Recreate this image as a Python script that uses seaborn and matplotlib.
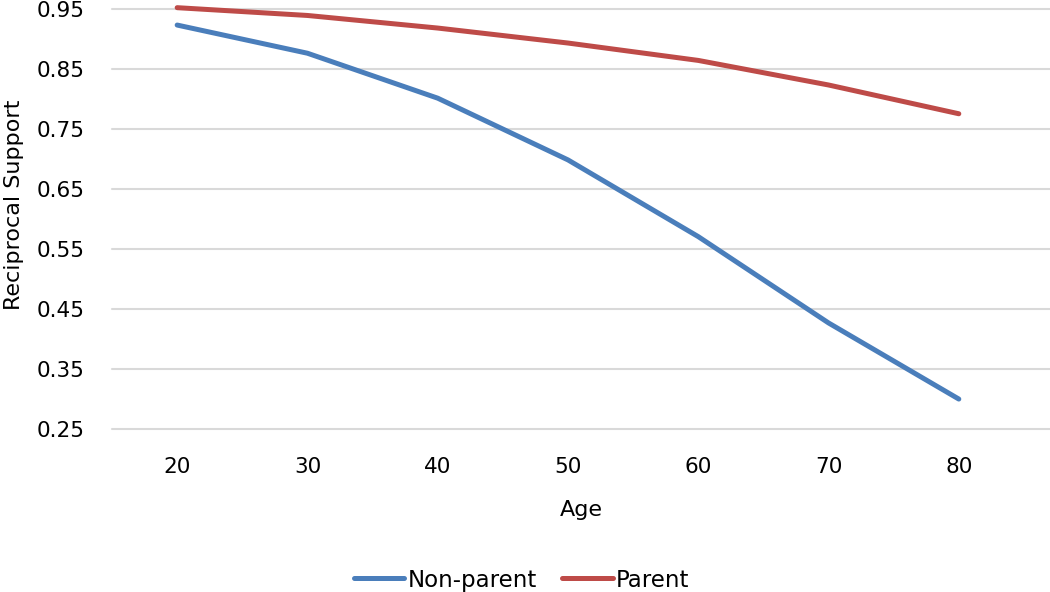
import pandas as pd
import numpy as np
import matplotlib
matplotlib.use('Agg')
import matplotlib.pyplot as plt
import seaborn as sns

# values
ages = [20, 30, 40, 50, 60, 70, 80]
non_parent = [0.924, 0.877, 0.802, 0.699, 0.571, 0.427, 0.300]
parent = [0.953, 0.940, 0.919, 0.894, 0.865, 0.824, 0.776]
y_ticks = [0.25, 0.35, 0.45, 0.55, 0.65, 0.75, 0.85, 0.95]

df = pd.DataFrame({
    'Age': ages * 2,
    'Reciprocal Support': non_parent + parent,
    'Group': ['Non-parent'] * len(ages) + ['Parent'] * len(ages),
})

sns.set_theme(style='white')
plt.rcParams['font.family'] = ['DejaVu Sans']
plt.rcParams['text.color'] = 'black'
plt.rcParams['axes.labelcolor'] = 'black'

blue = '#4A7EBB'
red = '#BE4B48'

fig = plt.figure(figsize=(10.5, 5.92), dpi=100)
ax = fig.add_axes([0.1067, 0.2753, 0.8933, 0.7087])

sns.lineplot(data=df, x='Age', y='Reciprocal Support', hue='Group',
             palette={'Non-parent': blue, 'Parent': red},
             linewidth=3.6, ax=ax, legend=False, solid_capstyle='round',
             clip_on=False, zorder=3)

ax.set_xlim(15, 87)
ax.set_ylim(0.25, 0.95)
ax.set_xticks(ages)
ax.set_yticks(y_ticks)
ax.set_yticklabels([f'{v:.2f}' for v in y_ticks])
ax.yaxis.grid(True, color='#D9D9D9', linewidth=1.5)
for g in ax.get_ygridlines():
    g.set_clip_on(False)
ax.set_axisbelow(True)
for s in ax.spines.values():
    s.set_visible(False)
ax.tick_params(axis='both', length=0, labelsize=15.5, colors='black')
ax.tick_params(axis='y', pad=20)
ax.tick_params(axis='x', pad=20)
ax.set_xlabel('Age', fontsize=16, labelpad=17)
ax.set_ylabel('Reciprocal Support', fontsize=16)
ax.yaxis.set_label_coords(-0.094, 0.534)

handles = [plt.Line2D([], [], color=blue, linewidth=3.6, solid_capstyle='round'),
           plt.Line2D([], [], color=red, linewidth=3.6, solid_capstyle='round')]
fig.legend(handles, ['Non-parent', 'Parent'], loc='lower center',
           bbox_to_anchor=(0.497, -0.034), ncol=2, frameon=False,
           fontsize=16.5, handlelength=2.2, handletextpad=0.15, columnspacing=1.1)

fig.savefig('out.png', dpi=100)
